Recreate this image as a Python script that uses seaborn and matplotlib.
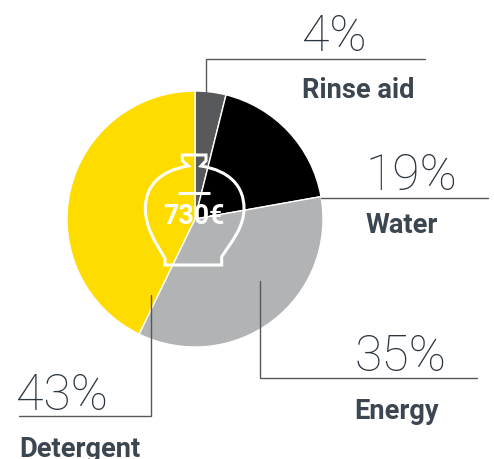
import matplotlib
matplotlib.use("Agg")
import matplotlib.pyplot as plt
from matplotlib.path import Path
from matplotlib.patches import PathPatch
import seaborn as sns

categories = ["Rinse aid", "Water", "Energy", "Detergent"]
shares = [3.9, 18.3, 35.0, 42.8]
slice_colors = ["#58595b", "#000000", "#b1b3b4", "#ffdc00"]
pct_labels = ["4%", "19%", "35%", "43%"]
center_label = "730€"

sns.set_theme(style="white")
plt.rcParams["font.family"] = ["Roboto", "DejaVu Sans"]

W, H = 494, 459
fig = plt.figure(figsize=(W / 100, H / 100), dpi=100)
ax = fig.add_axes([0, 0, 1, 1])
Y = lambda y: H - y

ax.pie(shares, colors=slice_colors, startangle=90, counterclock=False,
       center=(195, Y(219)), radius=128, frame=True)
ax.set_xlim(0, W)
ax.set_ylim(0, H)
ax.set_aspect("equal")
ax.axis("off")

TXT = "#3c4650"
LINE = "#55585b"
leaders = [
    ([206, 206, 425], [100, 59, 59]),
    ([321, 488], [198, 198]),
    ([260, 260, 477], [281, 378, 378]),
    ([151, 151, 19], [295, 416, 416]),
]
for xs, ys in leaders:
    ax.plot(xs, [Y(v) for v in ys], color=LINE, lw=1.0, solid_joinstyle="miter", zorder=5)

pct_pos = [(334, 51), (411, 190), (400, 371), (62, 410)]
for s, (x, y) in zip(pct_labels, pct_pos):
    ax.text(x, Y(y), s, fontsize=36, fontweight=200, color="#2c3640", ha="center",
            va="baseline", zorder=6)

name_pos = [(358, 98), (402, 233), (397, 419), (80, 457)]
for s, (x, y) in zip(categories, name_pos):
    ax.text(x, Y(y), s, fontsize=19.6, fontweight="bold", color=TXT, ha="center",
            va="baseline", zorder=6)

def Z(x, y):
    return (120 + x / 3, Y(130 + y / 3))

verts = [Z(187, 75), Z(258, 75), Z(258, 92), Z(243, 108),
         Z(330, 122), Z(372, 170), Z(372, 235),
         Z(372, 292), Z(335, 335), Z(305, 380),
         Z(305, 405), Z(135, 405), Z(135, 385),
         Z(105, 335), Z(76, 292), Z(76, 235),
         Z(76, 170), Z(118, 122), Z(205, 108),
         Z(187, 92), Z(187, 75)]
codes = [Path.MOVETO, Path.LINETO, Path.LINETO, Path.LINETO,
         Path.CURVE4, Path.CURVE4, Path.CURVE4,
         Path.CURVE4, Path.CURVE4, Path.CURVE4,
         Path.LINETO, Path.LINETO, Path.LINETO,
         Path.CURVE4, Path.CURVE4, Path.CURVE4,
         Path.CURVE4, Path.CURVE4, Path.CURVE4,
         Path.LINETO, Path.CLOSEPOLY]
ax.add_patch(PathPatch(Path(verts, codes), fc="none", ec="white", lw=2.2, zorder=7))
bar = [Z(175, 190), Z(270, 190)]
ax.plot([bar[0][0], bar[1][0]], [bar[0][1], bar[1][1]], color="white", lw=2.2, zorder=7,
        solid_capstyle="butt")
ax.text(*Z(222, 282), center_label, fontsize=19.3, fontweight="bold", color="white",
        ha="center", va="baseline", zorder=8)

fig.savefig("out.png", dpi=100)
